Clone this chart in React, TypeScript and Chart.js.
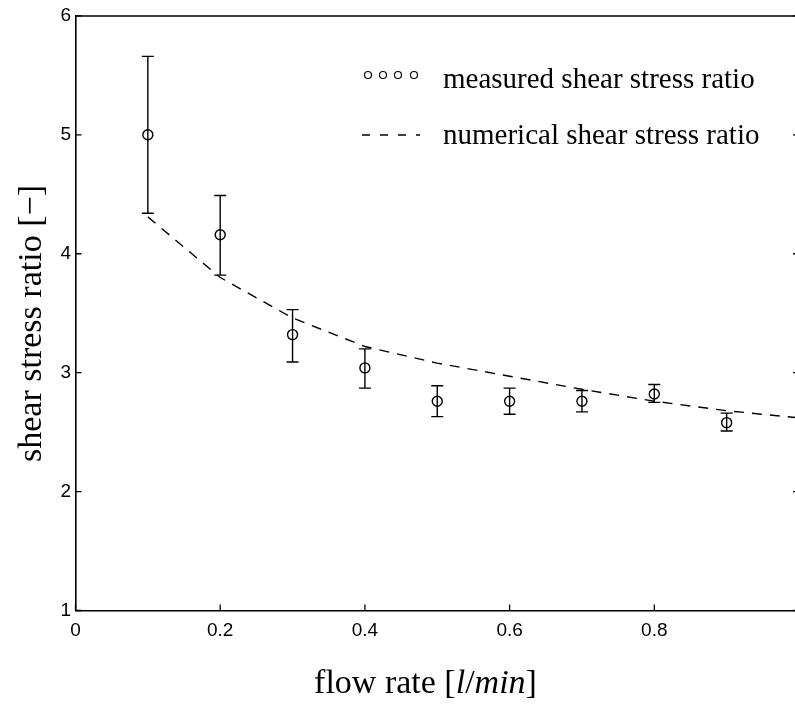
import React, { useEffect, useRef } from "react";
import { Chart, registerables } from "chart.js";

Chart.register(...registerables);

const flowRate = [0.1, 0.2, 0.3, 0.4, 0.5, 0.6, 0.7, 0.8, 0.9];
const measuredRatio = [5.0, 4.16, 3.32, 3.04, 2.76, 2.76, 2.76, 2.82, 2.58];
const errorLow = [4.34, 3.82, 3.09, 2.87, 2.63, 2.65, 2.67, 2.75, 2.51];
const errorHigh = [5.66, 4.49, 3.53, 3.2, 2.89, 2.87, 2.85, 2.9, 2.66];
const numericalFlow = [0.1, 0.2, 0.3, 0.4, 0.5, 0.6, 0.7, 0.8, 0.9, 1.0];
const numericalRatio = [4.31, 3.8, 3.46, 3.22, 3.08, 2.97, 2.86, 2.76, 2.68, 2.62];
const xTickValues = [0, 0.2, 0.4, 0.6, 0.8, 1];
const yTickValues = [1, 2, 3, 4, 5, 6];
const legendLabels = ["measured shear stress ratio", "numerical shear stress ratio"];
const yTitle = "shear stress ratio [\u2212]";

const SERIF = "'Liberation Serif', 'Times New Roman', serif";
const SANS = "'Liberation Sans', Arial, sans-serif";

const decor = {
  id: "decor",
  afterDatasetsDraw(chart: any) {
    const { ctx, chartArea: a, scales } = chart;
    const x = scales.x;
    const y = scales.y;
    ctx.save();
    ctx.strokeStyle = "#000";
    ctx.fillStyle = "#000";

    // error bars
    ctx.lineWidth = 1.4;
    flowRate.forEach((f, i) => {
      const px = x.getPixelForValue(f);
      const lo = y.getPixelForValue(errorLow[i]);
      const hi = y.getPixelForValue(errorHigh[i]);
      ctx.beginPath();
      ctx.moveTo(px, lo);
      ctx.lineTo(px, hi);
      ctx.moveTo(px - 6, lo);
      ctx.lineTo(px + 6, lo);
      ctx.moveTo(px - 6, hi);
      ctx.lineTo(px + 6, hi);
      ctx.stroke();
    });

    // frame (top + right)
    ctx.lineWidth = 1.5;
    ctx.beginPath();
    ctx.moveTo(a.left, a.top);
    ctx.lineTo(a.right, a.top);
    ctx.lineTo(a.right, a.bottom);
    ctx.stroke();

    // inward ticks
    ctx.lineWidth = 1.3;
    ctx.beginPath();
    yTickValues.forEach((v) => {
      const py = y.getPixelForValue(v);
      ctx.moveTo(a.left, py);
      ctx.lineTo(a.left + 6, py);
      ctx.moveTo(a.right, py);
      ctx.lineTo(a.right - 6, py);
    });
    xTickValues.forEach((v) => {
      const px = x.getPixelForValue(v);
      ctx.moveTo(px, a.bottom);
      ctx.lineTo(px, a.bottom - 6);
    });
    ctx.stroke();

    // legend
    ctx.lineWidth = 1.2;
    [368, 383, 398, 414].forEach((cx) => {
      ctx.beginPath();
      ctx.arc(cx, 75, 3.5, 0, Math.PI * 2);
      ctx.stroke();
    });
    ctx.lineWidth = 1.5;
    ctx.setLineDash([8, 10]);
    ctx.beginPath();
    ctx.moveTo(362, 135);
    ctx.lineTo(420, 135);
    ctx.stroke();
    ctx.setLineDash([]);
    ctx.font = `29px ${SERIF}`;
    ctx.textAlign = "left";
    ctx.textBaseline = "alphabetic";
    ctx.fillText(legendLabels[0], 443, 88);
    ctx.fillText(legendLabels[1], 443, 144);

    // x title with italic parts
    const parts: [string, boolean][] = [
      ["flow rate [", false],
      ["l", true],
      ["/", false],
      ["min", true],
      ["]", false],
    ];
    const fontFor = (it: boolean) => `${it ? "italic " : ""}34px ${SERIF}`;
    let total = 0;
    parts.forEach(([t, it]) => {
      ctx.font = fontFor(it);
      total += ctx.measureText(t).width;
    });
    let cx = 425.5 - total / 2;
    parts.forEach(([t, it]) => {
      ctx.font = fontFor(it);
      ctx.fillText(t, cx, 693);
      cx += ctx.measureText(t).width;
    });

    // y title
    ctx.save();
    ctx.translate(41, 323.5);
    ctx.rotate(-Math.PI / 2);
    ctx.font = `34px ${SERIF}`;
    ctx.textAlign = "center";
    ctx.fillText(yTitle, 0, 0);
    ctx.restore();

    ctx.restore();
  },
};

export default function App() {
  const ref = useRef<HTMLCanvasElement>(null);
  useEffect(() => {
    document.body.style.margin = "0";
    document.body.style.overflow = "hidden";
    document.body.style.background = "#fff";
    const chart = new Chart(ref.current as HTMLCanvasElement, {
      type: "scatter",
      data: {
        datasets: [
          {
            label: legendLabels[0],
            data: flowRate.map((f, i) => ({ x: f, y: measuredRatio[i] })),
            showLine: false,
            pointStyle: "circle",
            pointRadius: 5,
            pointBorderWidth: 1.4,
            borderColor: "#000",
            backgroundColor: "rgba(0,0,0,0)",
          },
          {
            label: legendLabels[1],
            data: numericalFlow.map((f, i) => ({ x: f, y: numericalRatio[i] })),
            showLine: true,
            borderColor: "#000",
            borderWidth: 1.4,
            borderDash: [10, 8],
            pointRadius: 0,
            tension: 0,
          },
        ],
      },
      options: {
        responsive: false,
        animation: false,
        layout: { autoPadding: false, padding: { top: 13, right: 1, left: 0, bottom: 0 } },
        plugins: { legend: { display: false }, tooltip: { enabled: false } },
        scales: {
          x: {
            type: "linear",
            min: 0,
            max: 1,
            afterFit: (s: any) => {
              s.height = 93.5;
              s.paddingRight = 0;
              s.paddingLeft = 0;
            },
            afterBuildTicks: (s: any) => {
              s.ticks = xTickValues.map((v) => ({ value: v }));
            },
            grid: { display: false, drawTicks: false },
            border: { display: true, color: "#000", width: 1.6 },
            ticks: {
              color: "#000",
              font: { family: SANS, size: 19 },
              padding: 9,
              maxRotation: 0,
              autoSkip: false,
              callback: (v: any) => (v === 1 ? "" : String(v)),
            },
          },
          y: {
            type: "linear",
            min: 1,
            max: 6,
            afterFit: (s: any) => {
              s.width = 75.5;
            },
            afterBuildTicks: (s: any) => {
              s.ticks = yTickValues.map((v) => ({ value: v }));
            },
            grid: { display: false, drawTicks: false },
            border: { display: true, color: "#000", width: 1.6 },
            ticks: {
              color: "#000",
              font: { family: SANS, size: 19 },
              padding: 4.5,
              autoSkip: false,
              callback: (v: any) => String(v),
            },
          },
        },
      },
      plugins: [decor],
    });
    return () => chart.destroy();
  }, []);
  return (
    <div style={{ width: 795, height: 704, overflow: "hidden", position: "relative" }}>
      <canvas
        ref={ref}
        width={800}
        height={704}
        style={{ display: "block", position: "absolute", left: 0, top: 0 }}
      />
    </div>
  );
}
